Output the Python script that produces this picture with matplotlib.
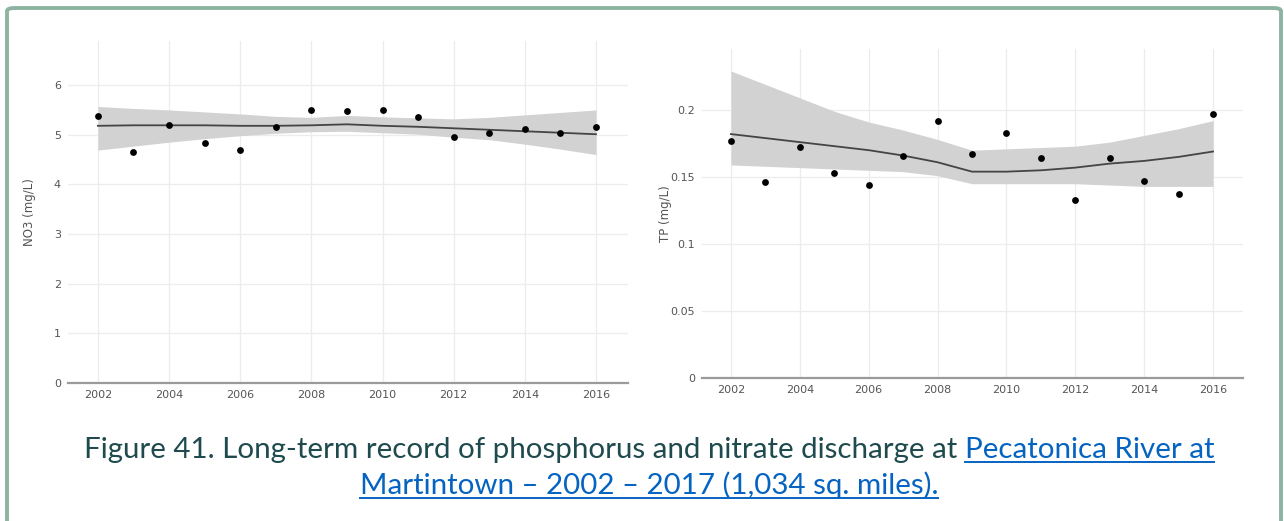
import matplotlib
matplotlib.use("Agg")
import matplotlib.pyplot as plt
from matplotlib.patches import FancyBboxPatch
from matplotlib.lines import Line2D

# ---- data -------------------------------------------------------------
years = [2002, 2003, 2004, 2005, 2006, 2007, 2008, 2009,
         2010, 2011, 2012, 2013, 2014, 2015, 2016]

no3_obs = [5.37, 4.66, 5.19, 4.84, 4.69, 5.16, 5.50, 5.47,
           5.50, 5.36, 4.96, 5.03, 5.11, 5.04, 5.16]
no3_fit = [5.18, 5.19, 5.19, 5.19, 5.18, 5.18, 5.19, 5.21,
           5.18, 5.16, 5.13, 5.10, 5.07, 5.04, 5.01]
no3_lo = [4.69, 4.77, 4.85, 4.92, 4.98, 5.03, 5.06, 5.07,
          5.04, 5.01, 4.95, 4.90, 4.81, 4.71, 4.60]
no3_hi = [5.57, 5.53, 5.50, 5.46, 5.42, 5.37, 5.35, 5.39,
          5.36, 5.34, 5.32, 5.35, 5.40, 5.45, 5.50]

tp_obs = [0.177, 0.146, 0.172, 0.153, 0.144, 0.166, 0.192, 0.167,
          0.183, 0.164, 0.133, 0.164, 0.147, 0.137, 0.197]
tp_fit = [0.182, 0.179, 0.176, 0.173, 0.170, 0.166, 0.161, 0.154,
          0.154, 0.155, 0.157, 0.160, 0.162, 0.165, 0.169]
tp_lo = [0.159, 0.158, 0.157, 0.156, 0.155, 0.154, 0.151, 0.145,
         0.145, 0.145, 0.145, 0.144, 0.143, 0.143, 0.143]
tp_hi = [0.229, 0.219, 0.209, 0.199, 0.191, 0.185, 0.178, 0.170,
         0.171, 0.172, 0.173, 0.176, 0.181, 0.186, 0.192]

x_ticks = [2002, 2004, 2006, 2008, 2010, 2012, 2014, 2016]
no3_ticks = [0, 1, 2, 3, 4, 5, 6]
tp_ticks = [0, 0.05, 0.1, 0.15, 0.2]
tp_tick_labels = ["0", "0.05", "0.1", "0.15", "0.2"]

caption_plain = "Figure 41. Long-term record of phosphorus and nitrate discharge at "
caption_link1 = "Pecatonica River at"
caption_link2 = "Martintown \u2013 2002 \u2013 2017 (1,034 sq. miles)."

# ---- figure -----------------------------------------------------------
W, H = 1284, 521
fig = plt.figure(figsize=(W / 100, H / 100), dpi=100)
fig.patch.set_facecolor("white")


def px_rect(x0, y0, x1, y1):
    """Pixel box (top-left origin) -> figure fraction [l, b, w, h]."""
    return [x0 / W, 1 - y1 / H, (x1 - x0) / W, (y1 - y0) / H]


# outer frame
frame = FancyBboxPatch((7 / W, -30 / H), (1281 - 7) / W, (H - 8 + 30) / H,
                       boxstyle="round,pad=0,rounding_size=0.006",
                       transform=fig.transFigure, facecolor="none",
                       edgecolor="#8db4a1", linewidth=2.8, zorder=0)
fig.patches.append(frame)

tick_color = "#555555"
grid_color = "#ececec"


def style_axes(ax, xlim, ylim, yticks, ylabels, ylabel, label_x):
    ax.set_xlim(*xlim)
    ax.set_ylim(*ylim)
    ax.set_xticks(x_ticks)
    ax.set_xticklabels([str(t) for t in x_ticks])
    ax.set_yticks(yticks)
    ax.set_yticklabels(ylabels)
    for s in ("top", "right", "left"):
        ax.spines[s].set_visible(False)
    ax.spines["bottom"].set_color("#9a9a9a")
    ax.spines["bottom"].set_linewidth(1.6)
    ax.tick_params(axis="both", length=0, labelsize=8, colors=tick_color)
    ax.tick_params(axis="x", pad=5)
    ax.tick_params(axis="y", pad=5)
    ax.grid(True, color=grid_color, linewidth=0.9)
    ax.set_axisbelow(True)
    ax.set_ylabel(ylabel, fontsize=8.5, color=tick_color)
    ax.yaxis.set_label_coords(label_x, 0.5)


def draw_series(ax, obs, fit, lo, hi):
    ax.fill_between(years, lo, hi, color="#d2d2d2", linewidth=0, zorder=1)
    ax.plot(years, fit, color="#444444", linewidth=1.3, zorder=2)
    ax.scatter(years, obs, s=24, color="black", zorder=3, linewidths=0)


ax1 = fig.add_axes(px_rect(68, 41, 628, 382.7))
draw_series(ax1, no3_obs, no3_fit, no3_lo, no3_hi)
style_axes(ax1, (2001.16, 2016.9), (0, 6.89), no3_ticks,
           [str(t) for t in no3_ticks], "NO3 (mg/L)", -0.057)

ax2 = fig.add_axes(px_rect(702, 49, 1243, 378.3))
draw_series(ax2, tp_obs, tp_fit, tp_lo, tp_hi)
style_axes(ax2, (2001.16, 2016.87), (0, 0.2454), tp_ticks,
           tp_tick_labels, "TP (mg/L)", -0.055)

# ---- caption ----------------------------------------------------------
cap_font = "Lato"
dark = "#1f4a4e"
link = "#0563c1"
fig.canvas.draw()
renderer = fig.canvas.get_renderer()

size = 20
t_plain = fig.text(0, 0, caption_plain, fontsize=size, family=cap_font,
                   color=dark, va="baseline", ha="left")
t_l1 = fig.text(0, 0, caption_link1, fontsize=size, family=cap_font,
                color=link, va="baseline", ha="left")
t_l2 = fig.text(0, 0, caption_link2, fontsize=size, family=cap_font,
                color=link, va="baseline", ha="left")


def width_px(t):
    return t.get_window_extent(renderer).width


# fit the first caption line between x=84 and x=1215
target = 1215 - 84
total = width_px(t_plain) + width_px(t_l1)
size = size * target / total
for t in (t_plain, t_l1, t_l2):
    t.set_fontsize(size)
fig.canvas.draw()
w_plain, w_l1, w_l2 = width_px(t_plain), width_px(t_l1), width_px(t_l2)

center = 649
x_start = center - (w_plain + w_l1) / 2
base1, base2 = 458, 494
t_plain.set_position((x_start / W, 1 - base1 / H))
t_l1.set_position(((x_start + w_plain) / W, 1 - base1 / H))
x2 = center - w_l2 / 2
t_l2.set_position((x2 / W, 1 - base2 / H))

# link underlines
for xa, xb, yb in ((x_start + w_plain, x_start + w_plain + w_l1, base1 + 4),
                   (x2, x2 + w_l2, base2 + 4)):
    fig.lines.append(Line2D([xa / W, xb / W], [1 - yb / H, 1 - yb / H],
                            transform=fig.transFigure, color=link,
                            linewidth=1.4))

fig.savefig("out.png", dpi=100, facecolor="white")
